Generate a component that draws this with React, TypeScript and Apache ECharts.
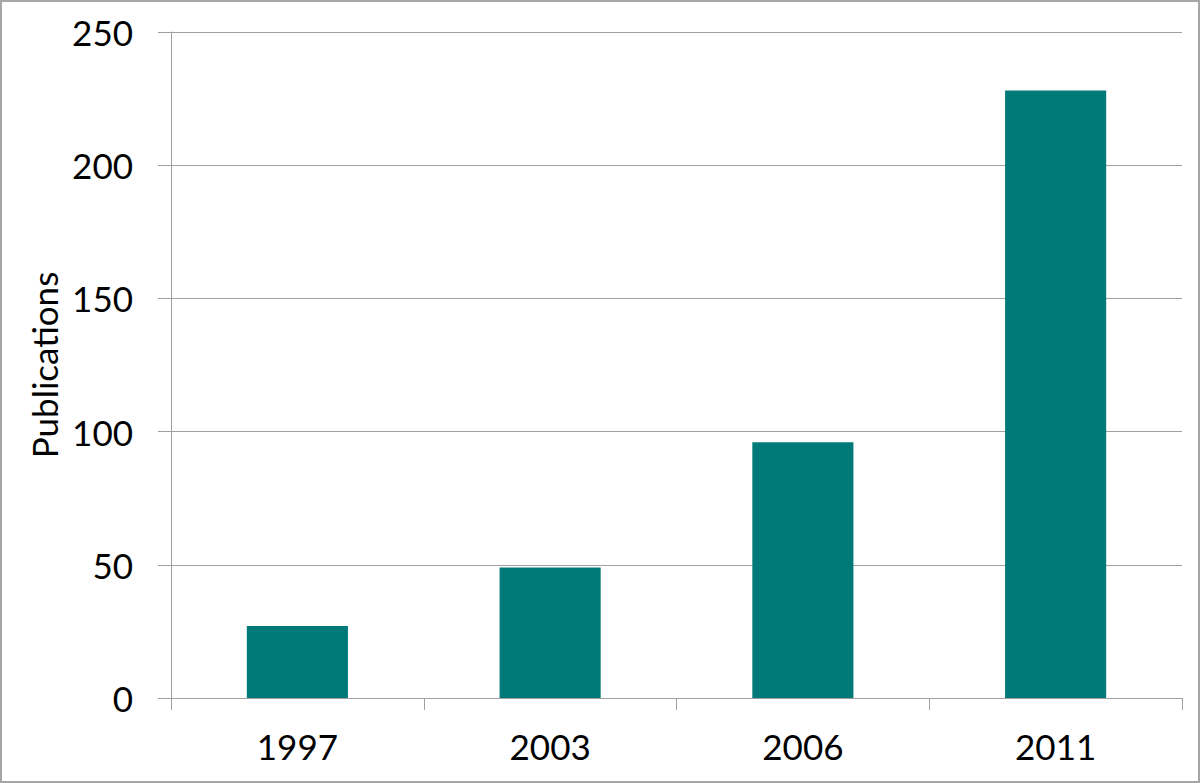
import React, { useEffect, useRef } from "react";
import * as echarts from "echarts";

const categories = ["1997", "2003", "2006", "2011"];
const publications = [27, 49, 96, 228];
const yTicks = { min: 0, max: 250, interval: 50 };
const yAxisTitle = "Publications";

export default function App() {
  const ref = useRef<HTMLDivElement>(null);
  useEffect(() => {
    if (!ref.current) return;
    const chart = echarts.init(ref.current, null, { renderer: "svg" });
    const font = "Lato, 'Open Sans', sans-serif";
    chart.setOption({
      animation: false,
      backgroundColor: "#ffffff",
      textStyle: { fontFamily: font },
      graphic: [
        {
          type: "rect",
          shape: { x: 1, y: 1, width: 1198, height: 781 },
          style: { fill: "none", stroke: "#a6a6a6", lineWidth: 2 },
          silent: true,
        },
      ],
      grid: { left: 171, right: 18, top: 32, bottom: 85, containLabel: false },
      xAxis: {
        type: "category",
        data: categories,
        boundaryGap: true,
        axisLine: { show: true, lineStyle: { color: "#a0a0a0", width: 1 } },
        axisTick: { show: true, length: 12, alignWithLabel: false, lineStyle: { color: "#a0a0a0" } },
        axisLabel: { color: "#000", fontSize: 35, fontFamily: font, margin: 30 },
        splitLine: { show: false },
      },
      yAxis: {
        type: "value",
        min: yTicks.min,
        max: yTicks.max,
        interval: yTicks.interval,
        name: yAxisTitle,
        nameLocation: "middle",
        nameGap: 106,
        nameTextStyle: { color: "#000", fontSize: 35, fontFamily: font },
        axisLine: { show: true, lineStyle: { color: "#a0a0a0", width: 1 } },
        axisTick: { show: true, length: 13, inside: false, lineStyle: { color: "#a0a0a0" } },
        axisLabel: { color: "#000", fontSize: 35, fontFamily: font, margin: 38 },
        splitLine: { show: true, lineStyle: { color: "#a0a0a0", width: 1 } },
      },
      series: [
        {
          type: "bar",
          data: publications,
          barWidth: "40%",
          itemStyle: { color: "#007a78" },
        },
      ],
    });
    return () => chart.dispose();
  }, []);
  return (
    <div
      ref={ref}
      style={{ position: "fixed", left: 0, top: 0, width: 1200, height: 783 }}
    />
  );
}
